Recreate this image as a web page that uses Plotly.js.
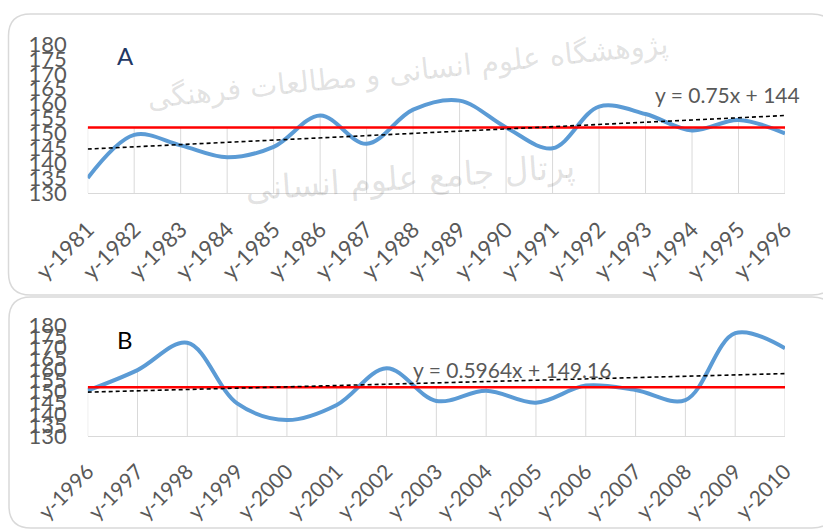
<!DOCTYPE html>
<html><head><meta charset="utf-8">
<script src="https://cdn.plot.ly/plotly-3.0.1.min.js"></script>
<style>html,body{margin:0;padding:0;background:#fff}#chart{width:823px;height:531px}</style>
</head><body><div id="chart"></div>
<script>
// ---- data ----
const yearsA = ['y-1981','y-1982','y-1983','y-1984','y-1985','y-1986','y-1987','y-1988',
                'y-1989','y-1990','y-1991','y-1992','y-1993','y-1994','y-1995','y-1996'];
const valuesA = [135, 149.5, 146, 142, 145.5, 156, 146.5, 158, 161, 152, 145, 159, 156.5, 151, 154.5, 150];
const yearsB = ['y-1996','y-1997','y-1998','y-1999','y-2000','y-2001','y-2002','y-2003',
                'y-2004','y-2005','y-2006','y-2007','y-2008','y-2009','y-2010'];
const valuesB = [150.5, 159.7, 172, 144.7, 137.2, 144, 160.5, 145.8, 150.4, 145, 152.7, 150.7, 146.2, 176.3, 169.5];
const meanLevel = 152;
const trendSlopeA = 0.75, trendInterceptA = 144;
const trendSlopeB = 0.5964, trendInterceptB = 149.16;
const trendLabelA = 'y = 0.75x + 144';
const trendLabelB = 'y = 0.5964x + 149.16';
const yTickVals = [130,135,140,145,150,155,160,165,170,175,180];
const panelLabels = ['A', 'B'];
const watermarkLine1 = 'پژوهشگاه علوم انسانی و مطالعات فرهنگی';
const watermarkLine2 = 'پرتال جامع علوم انسانی';

// ---- helpers ----
const W = 823, H = 531;
const px = x => x / W;
const py = y => 1 - y / H;
const yMin = 130, yMax = 180;

function panelTraces(years, values, slope, intercept, xa, ya) {
  const dx = [], dy = [];
  years.forEach((yr, i) => { dx.push(yr, yr, null); dy.push(yMin, Math.max(values[i], meanLevel), null); });
  return [
    {x: dx, y: dy, xaxis: xa, yaxis: ya, mode: 'lines', line: {color: '#d9d9d9', width: 1}, hoverinfo: 'skip'},
    {x: years, y: values, xaxis: xa, yaxis: ya, mode: 'lines',
     line: {color: '#5b9bd5', width: 4, shape: 'spline', smoothing: 1}},
    {x: years, y: years.map(() => meanLevel), xaxis: xa, yaxis: ya, mode: 'lines',
     line: {color: '#ff0000', width: 2.5}},
    {x: years, y: years.map((_, i) => slope * (i + 1) + intercept), xaxis: xa, yaxis: ya, mode: 'lines',
     line: {color: '#000000', width: 1.6, dash: '4px,3px'}}
  ];
}

function roundedRect(x0, y0, x1, y1, r) {
  const rx = r / W, ry = r / H;
  const X0 = px(x0), X1 = px(x1), Y0 = py(y0), Y1 = py(y1);
  return `M ${X0 + rx},${Y0} L ${X1 - rx},${Y0} Q ${X1},${Y0} ${X1},${Y0 - ry} ` +
         `L ${X1},${Y1 + ry} Q ${X1},${Y1} ${X1 - rx},${Y1} L ${X0 + rx},${Y1} ` +
         `Q ${X0},${Y1} ${X0},${Y1 + ry} L ${X0},${Y0 - ry} Q ${X0},${Y0} ${X0 + rx},${Y0} Z`;
}

const data = [
  ...panelTraces(yearsA, valuesA, trendSlopeA, trendInterceptA, 'x', 'y'),
  ...panelTraces(yearsB, valuesB, trendSlopeB, trendInterceptB, 'x2', 'y2')
];

const fam = 'Lato, "Open Sans", sans-serif';
const tickFont = {family: fam, size: 22, color: '#595959'};

function xAxis(years, domain, anchor, size) {
  return {domain, anchor, type: 'category', categoryorder: 'array', categoryarray: years,
    range: [0, years.length - 1], showgrid: false, zeroline: false, showline: true,
    linecolor: '#d9d9d9', linewidth: 1, ticks: '', tickangle: -45,
    tickfont: {family: fam, size, color: '#595959'},
    ticklabelstandoff: 14, fixedrange: true};
}
function yAxis(domain, anchor) {
  return {domain, anchor, range: [yMin, yMax], tickvals: yTickVals, showgrid: false, zeroline: false,
    showline: false, ticks: '', tickfont: tickFont, ticklabelstandoff: 20, fixedrange: true};
}

function note(x, y, text, font, extra) {
  return Object.assign({xref: 'paper', yref: 'paper', x: px(x), y: py(y), text, showarrow: false,
    xanchor: 'center', yanchor: 'middle', font}, extra || {});
}

const xDom = [px(87.7), px(785)];
const wmFont = s => ({family: 'DejaVu Sans', size: s, color: 'rgba(110,110,110,0.2)'});
const layout = {
  width: W, height: H, margin: {l: 0, r: 0, t: 0, b: 0},
  paper_bgcolor: '#ffffff', plot_bgcolor: 'rgba(0,0,0,0)', showlegend: false,
  xaxis: xAxis(yearsA, xDom, 'y', 22),
  yaxis: yAxis([py(193), py(44)], 'x'),
  xaxis2: xAxis(yearsB, xDom, 'y2', 21),
  yaxis2: yAxis([py(436), py(325)], 'x2'),
  shapes: [
    {type: 'path', xref: 'paper', yref: 'paper', path: roundedRect(8.5, 14, 834, 295, 22),
     line: {color: '#d9d9d9', width: 1.5}, layer: 'below'},
    {type: 'path', xref: 'paper', yref: 'paper', path: roundedRect(9, 297, 834, 528, 22),
     line: {color: '#d9d9d9', width: 1.5}, layer: 'below'}
  ],
  annotations: [
    note(408, 72, watermarkLine1, wmFont(29), {textangle: -6}),
    note(410, 178, watermarkLine2, wmFont(33), {textangle: -4}),
    note(125, 56, panelLabels[0], {family: fam, size: 24, color: '#1f3864'}),
    note(125, 339, panelLabels[1], {family: fam, size: 24, color: '#000000'}),
    note(727, 95, trendLabelA, {family: fam, size: 21, color: '#595959'}),
    note(512, 369, trendLabelB, {family: fam, size: 21, color: '#595959'})
  ]
};

Plotly.newPlot('chart', data, layout, {displayModeBar: false, staticPlot: true});
</script></body></html>
